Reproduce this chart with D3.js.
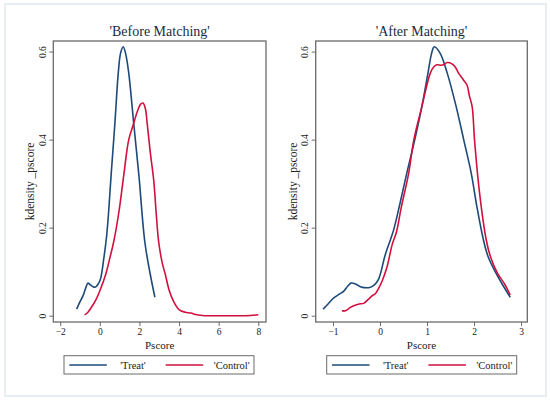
<!DOCTYPE html>
<html lang="en">
<head>
<meta charset="UTF-8">
<title>Kernel density of pscore before and after matching</title>
<script src="https://d3js.org/d3.v7.min.js"></script>
<style>
  body { margin: 0; background: #fff; }
  text { font-family: "Liberation Serif", "DejaVu Serif", serif; }
</style>
</head>
<body>
<svg width="550" height="403"></svg>
<script>
// ---- data: [pscore, density] ----
const beforeTreat = [
  [-1.17, 0.015], [-1.0, 0.032], [-0.85, 0.045], [-0.72, 0.062], [-0.6, 0.074],
  [-0.48, 0.07], [-0.35, 0.066], [-0.22, 0.065], [-0.1, 0.071], [0.03, 0.083],
  [0.2, 0.13], [0.34, 0.18], [0.45, 0.24], [0.57, 0.32], [0.76, 0.437],
  [0.93, 0.551], [1.05, 0.597], [1.18, 0.611], [1.3, 0.596], [1.46, 0.551],
  [1.71, 0.437], [1.97, 0.32], [2.27, 0.168], [2.55, 0.093], [2.78, 0.042]
];
const beforeControl = [
  [-0.77, 0.002], [-0.6, 0.008], [-0.4, 0.021], [-0.22, 0.034], [0.03, 0.06],
  [0.29, 0.093], [0.5, 0.13], [0.7, 0.168], [0.96, 0.235], [1.21, 0.32],
  [1.46, 0.40], [1.71, 0.437], [1.9, 0.465], [2.05, 0.48], [2.18, 0.483],
  [2.3, 0.47], [2.39, 0.437], [2.55, 0.37], [2.72, 0.308], [2.85, 0.23],
  [2.97, 0.168], [3.15, 0.12], [3.31, 0.093], [3.5, 0.058], [3.73, 0.032],
  [4.0, 0.014], [4.3, 0.008], [4.6, 0.006], [4.9, 0.002], [5.3, 0.0],
  [6.0, 0.0], [7.0, 0.0], [7.6, 0.0005], [8.0, 0.002]
];
const afterTreat = [
  [-1.21, 0.015], [-1.1, 0.027], [-0.99, 0.04], [-0.85, 0.05], [-0.77, 0.056],
  [-0.68, 0.068], [-0.62, 0.074], [-0.52, 0.072], [-0.42, 0.066], [-0.22, 0.064],
  [-0.12, 0.07], [-0.03, 0.083], [0.11, 0.138], [0.22, 0.172], [0.29, 0.195],
  [0.41, 0.248], [0.57, 0.324], [0.74, 0.40], [0.89, 0.475], [1.02, 0.551],
  [1.1, 0.597], [1.155, 0.611], [1.28, 0.596], [1.43, 0.551], [1.62, 0.475],
  [1.78, 0.40], [1.94, 0.324], [2.06, 0.248], [2.2, 0.172], [2.3, 0.134],
  [2.47, 0.096], [2.62, 0.068], [2.77, 0.042]
];
const afterControl = [
  [-0.81, 0.011], [-0.72, 0.012], [-0.63, 0.019], [-0.53, 0.024], [-0.42, 0.027],
  [-0.35, 0.028], [-0.25, 0.037], [-0.17, 0.045], [-0.1, 0.05], [-0.03, 0.062],
  [0.05, 0.08], [0.15, 0.111], [0.26, 0.162], [0.35, 0.19], [0.45, 0.245],
  [0.61, 0.324], [0.72, 0.40], [0.89, 0.475], [1.07, 0.551], [1.15, 0.566],
  [1.21, 0.57], [1.3, 0.569], [1.35, 0.57], [1.43, 0.575], [1.53, 0.572],
  [1.6, 0.565], [1.67, 0.551], [1.78, 0.535], [1.85, 0.524], [1.9, 0.50],
  [1.96, 0.475], [2.01, 0.40], [2.11, 0.286], [2.26, 0.172], [2.35, 0.134],
  [2.5, 0.096], [2.65, 0.072], [2.77, 0.047]
];
const yTicks = [0, 0.2, 0.4, 0.6];
const beforeXTicks = [-2, 0, 2, 4, 6, 8];
const afterXTicks = [-1, 0, 1, 2, 3];
const seriesNames = ["'Treat'", "'Control'"];

const blue = "#1d4a78", red = "#d2103e";
const frameColor = "#6a6a6a", textColor = "#222";

const svg = d3.select("svg");

// faint outer frame
svg.append("rect")
  .attr("x", 5).attr("y", 4).attr("width", 541).attr("height", 392)
  .attr("fill", "none").attr("stroke", "#e2eaed").attr("stroke-width", 1.5);

function drawPanel(p) {
  const x = d3.scaleLinear().domain(p.xDomain).range([p.left, p.right]);
  const y = d3.scaleLinear().domain([-0.0143, 0.624]).range([322, 41]);
  const g = svg.append("g");

  g.append("text")
    .attr("x", (p.left + p.right) / 2).attr("y", 36)
    .attr("text-anchor", "middle").attr("font-size", 14).attr("fill", "#1b2b44")
    .text(p.title);

  const line = d3.line().x(d => x(d[0])).y(d => y(d[1])).curve(d3.curveCatmullRom.alpha(0.5));
  g.append("path").datum(p.treat).attr("d", line)
    .attr("fill", "none").attr("stroke", blue).attr("stroke-width", 1.6);
  g.append("path").datum(p.control).attr("d", line)
    .attr("fill", "none").attr("stroke", red).attr("stroke-width", 1.6);

  g.append("rect")
    .attr("x", p.left).attr("y", 41).attr("width", p.right - p.left).attr("height", 281)
    .attr("fill", "none").attr("stroke", frameColor).attr("stroke-width", 1.3);

  // x axis
  const xa = g.append("g").attr("transform", "translate(0,322)")
    .call(d3.axisBottom(x).tickValues(p.xTicks).tickSize(4).tickPadding(2)
      .tickFormat(d => String(d).replace("-", "\u2212")));
  xa.select(".domain").remove();
  xa.selectAll("line").attr("stroke", frameColor);
  xa.selectAll("text").attr("font-size", 9.5).attr("fill", textColor)
    .attr("font-family", "Liberation Serif, serif");

  // y axis with rotated labels
  const ya = g.append("g").attr("transform", `translate(${p.left},0)`)
    .call(d3.axisLeft(y).tickValues(yTicks).tickSize(4).tickFormat(d3.format("")));
  ya.select(".domain").remove();
  ya.selectAll("line").attr("stroke", frameColor);
  ya.selectAll("text")
    .attr("font-size", 9.5).attr("fill", textColor).attr("font-family", "Liberation Serif, serif")
    .attr("x", null).attr("dy", null).attr("text-anchor", "middle")
    .attr("transform", "translate(-7.5,0) rotate(-90)");

  g.append("text")
    .attr("x", (p.left + p.right) / 2).attr("y", 348.5)
    .attr("text-anchor", "middle").attr("font-size", 11).attr("fill", textColor)
    .text("Pscore");

  g.append("text")
    .attr("transform", `translate(${p.left - 19},181.5) rotate(-90)`)
    .attr("text-anchor", "middle").attr("font-size", 11.5).attr("fill", textColor)
    .text("kdensity _pscore");

  // legend
  const lx = p.legend;
  g.append("rect")
    .attr("x", lx).attr("y", 355.7).attr("width", 190).attr("height", 18.3)
    .attr("fill", "#fff").attr("stroke", frameColor).attr("stroke-width", 1);
  const items = [
    { name: seriesNames[0], color: blue, x0: 5.3, tx: 69 },
    { name: seriesNames[1], color: red, x0: 101.7, tx: 167.7 }
  ];
  items.forEach(it => {
    g.append("line")
      .attr("x1", lx + it.x0).attr("x2", lx + it.x0 + 37.5)
      .attr("y1", 365).attr("y2", 365)
      .attr("stroke", it.color).attr("stroke-width", 1.6);
    g.append("text")
      .attr("x", lx + it.tx).attr("y", 368.5)
      .attr("text-anchor", "middle").attr("font-size", 10.5).attr("fill", textColor)
      .text(it.name);
  });
}

drawPanel({
  title: "'Before Matching'", left: 53.3, right: 266,
  xDomain: [-2.35, 8.39], xTicks: beforeXTicks,
  treat: beforeTreat, control: beforeControl, legend: 64
});
drawPanel({
  title: "'After Matching'", left: 315.7, right: 527.3,
  xDomain: [-1.368, 3.133], xTicks: afterXTicks,
  treat: afterTreat, control: afterControl, legend: 326.7
});
</script>
</body>
</html>
